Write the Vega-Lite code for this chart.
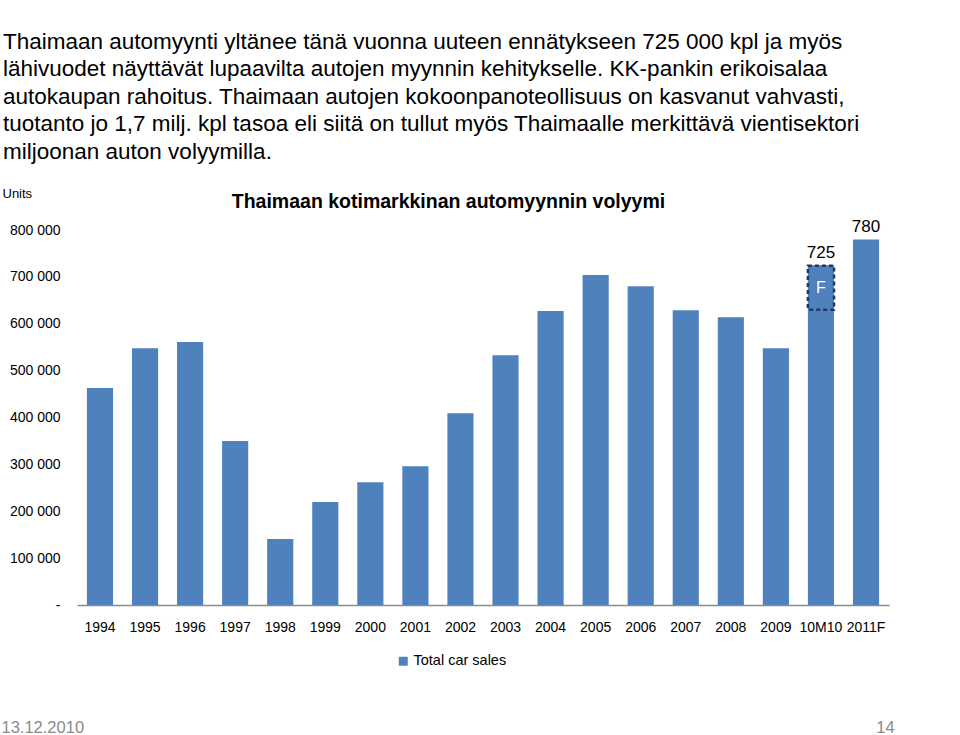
{
  "$schema": "https://vega.github.io/schema/vega-lite/v6.json",
  "width": 812,
  "height": 375,
  "autosize": {"type": "none"},
  "padding": {"left": 77, "top": 230, "right": 71, "bottom": 130},
  "background": "white",
  "title": {
    "text": [
      "Thaimaan automyynti yltänee tänä vuonna uuteen ennätykseen 725 000 kpl ja myös",
      "lähivuodet näyttävät lupaavilta autojen myynnin kehitykselle. KK-pankin erikoisalaa",
      "autokaupan rahoitus. Thaimaan autojen kokoonpanoteollisuus on kasvanut vahvasti,",
      "tuotanto jo 1,7 milj. kpl tasoa eli siitä on tullut myös Thaimaalle merkittävä vientisektori",
      "miljoonan auton volyymilla."
    ],
    "anchor": "start",
    "frame": "group",
    "dx": -74,
    "offset": 24,
    "font": "Liberation Sans",
    "fontSize": 22.5,
    "fontWeight": "normal",
    "color": "#000000",
    "lineHeight": 27.5
  },
  "datasets": {
    "sales": [
      {"year": "1994", "value": 463000, "series": "Total car sales"},
      {"year": "1995", "value": 548000, "series": "Total car sales"},
      {"year": "1996", "value": 561000, "series": "Total car sales"},
      {"year": "1997", "value": 350000, "series": "Total car sales"},
      {"year": "1998", "value": 141000, "series": "Total car sales"},
      {"year": "1999", "value": 220000, "series": "Total car sales"},
      {"year": "2000", "value": 262000, "series": "Total car sales"},
      {"year": "2001", "value": 296000, "series": "Total car sales"},
      {"year": "2002", "value": 409000, "series": "Total car sales"},
      {"year": "2003", "value": 533000, "series": "Total car sales"},
      {"year": "2004", "value": 627000, "series": "Total car sales"},
      {"year": "2005", "value": 704000, "series": "Total car sales"},
      {"year": "2006", "value": 680000, "series": "Total car sales"},
      {"year": "2007", "value": 629000, "series": "Total car sales"},
      {"year": "2008", "value": 614000, "series": "Total car sales"},
      {"year": "2009", "value": 548000, "series": "Total car sales"},
      {"year": "10M10", "value": 725000, "series": "Total car sales", "label": "725"},
      {"year": "2011F", "value": 780000, "series": "Total car sales", "label": "780"}
    ],
    "forecast": [
      {"year": "10M10", "lo": 630000, "hi": 724000, "mid": 677000, "f": "F"}
    ]
  },
  "layer": [
    {
      "data": {"name": "sales"},
      "mark": {"type": "bar"},
      "encoding": {
        "x": {
          "field": "year", "type": "nominal", "sort": null,
          "scale": {"paddingInner": 0.42, "paddingOuter": 0.22},
          "axis": {
            "orient": "bottom", "labelAngle": 0, "labelFontSize": 14, "labelFont": "Liberation Sans",
            "labelColor": "#000000", "labelPadding": 15, "ticks": false, "domainColor": "#8c8c8c", "domainWidth": 1.5,
            "title": "13.12.2010", "titleX": -76, "titleY": 122, "titleAlign": "left", "titleBaseline": "middle",
            "titleFont": "Liberation Sans", "titleFontSize": 16.5, "titleFontWeight": "normal", "titleColor": "#8a8a8a"
          }
        },
        "y": {
          "field": "value", "type": "quantitative",
          "scale": {"domain": [0, 800000], "nice": false},
          "axis": {
            "orient": "left", "values": [0, 100000, 200000, 300000, 400000, 500000, 600000, 700000, 800000],
            "labelExpr": "datum.value == 0 ? '-' : replace(format(datum.value, ','), /,/g, ' ')",
            "labelFontSize": 14, "labelFont": "Liberation Sans", "labelColor": "#000000", "labelPadding": 17,
            "ticks": false, "domain": false, "grid": false,
            "title": "Units", "titleAngle": 0, "titleX": -75, "titleY": -37, "titleAlign": "left", "titleBaseline": "middle",
            "titleFont": "Liberation Sans", "titleFontSize": 13, "titleFontWeight": "normal", "titleColor": "#000000"
          }
        },
        "color": {
          "field": "series", "type": "nominal",
          "scale": {"range": ["#4F81BD"]},
          "legend": {
            "orient": "none", "legendX": 319, "legendY": 424, "title": null,
            "symbolType": "square", "symbolSize": 80, "symbolStrokeWidth": 0,
            "labelFontSize": 14.5, "labelFont": "Liberation Sans", "labelColor": "#000000", "labelOffset": 3
          }
        }
      }
    },
    {
      "data": {"name": "forecast"},
      "mark": {"type": "bar", "fill": "#4F81BD", "stroke": "#1F3864", "strokeWidth": 2.5, "strokeDash": [4, 3]},
      "encoding": {
        "x": {
          "field": "year", "type": "nominal", "sort": null,
          "axis": {
            "orient": "top", "labels": false, "ticks": false, "domain": false,
            "title": "Thaimaan kotimarkkinan automyynnin volyymi",
            "titleX": 371, "titleY": -29, "titleAlign": "center", "titleBaseline": "middle",
            "titleFont": "Liberation Sans", "titleFontSize": 19.5, "titleFontWeight": "bold", "titleColor": "#000000"
          }
        },
        "y": {
          "field": "lo", "type": "quantitative",
          "scale": {"domain": [0, 800000], "nice": false},
          "axis": {
            "orient": "right", "labels": false, "ticks": false, "domain": false, "grid": false,
            "title": "14", "titleAngle": 0, "titleX": -4, "titleY": 497, "titleAlign": "center", "titleBaseline": "middle",
            "titleFont": "Liberation Sans", "titleFontSize": 16.5, "titleFontWeight": "normal", "titleColor": "#8a8a8a"
          }
        },
        "y2": {"field": "hi"}
      }
    },
    {
      "data": {"name": "forecast"},
      "mark": {"type": "text", "color": "#ffffff", "font": "Liberation Sans", "fontSize": 16, "baseline": "middle"},
      "encoding": {
        "x": {"field": "year", "type": "nominal", "sort": null, "axis": null},
        "y": {"field": "mid", "type": "quantitative", "axis": null},
        "text": {"field": "f"}
      }
    },
    {
      "data": {"name": "sales"},
      "transform": [{"filter": "isValid(datum.label)"}],
      "mark": {"type": "text", "color": "#000000", "font": "Liberation Sans", "fontSize": 17, "baseline": "bottom", "dy": -3},
      "encoding": {
        "x": {"field": "year", "type": "nominal", "sort": null, "axis": null},
        "y": {"field": "value", "type": "quantitative", "axis": null},
        "text": {"field": "label"}
      }
    }
  ],
  "resolve": {"axis": {"x": "independent", "y": "independent"}},
  "config": {"view": {"stroke": null}, "axis": {"grid": false}}
}
